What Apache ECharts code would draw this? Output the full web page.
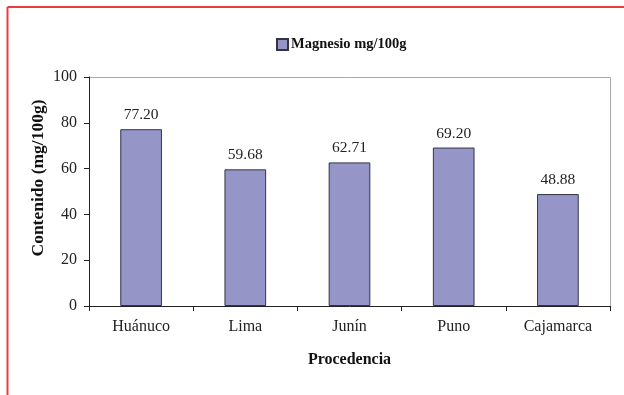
<!DOCTYPE html>
<html>
<head>
<meta charset="utf-8">
<script src="https://cdn.jsdelivr.net/npm/echarts@6/dist/echarts.min.js"></script>
<style>
  html, body { margin: 0; padding: 0; background: #fff; }
  #chart { width: 624px; height: 395px; }
</style>
</head>
<body>
<div id="chart"></div>
<script>
// Magnesium content by origin
const categories = ['Huánuco', 'Lima', 'Junín', 'Puno', 'Cajamarca'];
const magnesio = [77.20, 59.68, 62.71, 69.20, 48.88];
const seriesName = 'Magnesio mg/100g';
const yAxisTitle = 'Contenido (mg/100g)';
const xAxisTitle = 'Procedencia';
const yTicks = { min: 0, max: 100, interval: 20 };

const serif = '"Liberation Serif", "Times New Roman", serif';
const chart = echarts.init(document.getElementById('chart'), null, { renderer: 'canvas' });

chart.setOption({
  backgroundColor: '#ffffff',
  animation: false,
  graphic: [
    // outer red frame (top and left edges)
    { type: 'line', shape: { x1: 7.5, y1: 7, x2: 624, y2: 7 }, style: { stroke: '#f23a3a', lineWidth: 2 } },
    { type: 'line', shape: { x1: 7.5, y1: 7, x2: 7.5, y2: 395 }, style: { stroke: '#f23a3a', lineWidth: 2 } },
    // plot area top and right border
    { type: 'line', shape: { x1: 89, y1: 77.5, x2: 610.5, y2: 77.5 }, style: { stroke: '#aaaaaa', lineWidth: 1 } },
    { type: 'line', shape: { x1: 610.5, y1: 77.5, x2: 610.5, y2: 306 }, style: { stroke: '#aaaaaa', lineWidth: 1 } },
    // vertical axis title
    {
      type: 'text',
      x: 38, y: 178,
      rotation: Math.PI / 2,
      style: {
        text: yAxisTitle,
        fontFamily: serif, fontWeight: 'bold', fontSize: 17.5,
        fill: '#111', textAlign: 'center', textVerticalAlign: 'middle'
      }
    }
  ],
  legend: {
    data: [seriesName],
    top: 32,
    left: 271,
    itemWidth: 11,
    itemHeight: 11,
    itemGap: 3,
    icon: 'rect',
    textStyle: { fontFamily: serif, fontWeight: 'bold', fontSize: 14.5, color: '#111', padding: [0, 0, 0, -2] }
  },
  grid: { left: 89, right: 14, top: 77, bottom: 89, containLabel: false },
  xAxis: {
    type: 'category',
    data: categories,
    name: xAxisTitle,
    nameLocation: 'middle',
    nameGap: 46,
    nameTextStyle: { fontFamily: serif, fontWeight: 'bold', fontSize: 16, color: '#111' },
    axisLine: { lineStyle: { color: '#222', width: 1 } },
    axisTick: { show: true, alignWithLabel: false, length: 5, lineStyle: { color: '#222' } },
    axisLabel: { fontFamily: serif, fontSize: 16, color: '#222', margin: 13 }
  },
  yAxis: {
    type: 'value',
    min: yTicks.min,
    max: yTicks.max,
    interval: yTicks.interval,
    axisLine: { show: true, lineStyle: { color: '#222', width: 1 } },
    axisTick: { show: true, length: 5, lineStyle: { color: '#222' } },
    axisLabel: { fontFamily: serif, fontSize: 16, color: '#222', margin: 12 },
    splitLine: { show: false }
  },
  series: [{
    name: seriesName,
    type: 'bar',
    data: magnesio,
    barWidth: '40%',
    itemStyle: { color: '#9595c8', borderColor: '#333344', borderWidth: 1 },
    label: {
      show: true,
      position: 'top',
      distance: 6,
      fontFamily: serif,
      fontSize: 15.5,
      color: '#222',
      formatter: p => p.value.toFixed(2)
    }
  }]
});
</script>
</body>
</html>
